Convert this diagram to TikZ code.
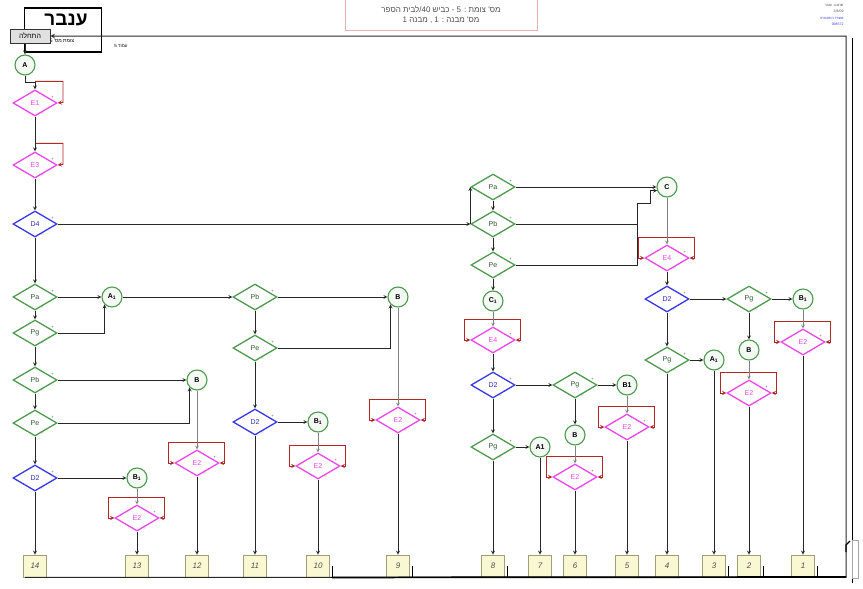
\documentclass[tikz,border=0pt]{standalone}
\usepackage{fontspec}
\setmainfont{Liberation Sans}
\newfontfamily\hebfont[Script=Hebrew]{Liberation Sans}
\TeXXeTstate=1
\usepackage{tikz}
\usetikzlibrary{
    shapes.geometric, arrows, positioning
}

\definecolor{pgreen}{HTML}{4E9A4E}
\definecolor{pblue}{HTML}{3838E8}
\definecolor{ppink}{HTML}{EC46EC}
\definecolor{ploop}{HTML}{B02828}
\definecolor{pbox}{HTML}{FAF8D2}
\definecolor{pboxline}{HTML}{A0A078}
\definecolor{pgray}{HTML}{505050}

\begin{document}
\begin{tikzpicture}[
    x=1pt, y=-1pt,
    pm/.style={font=\fontsize{4}{4}\selectfont, inner sep=0.4pt, text=black!70},
    cond/.style={diamond, draw, line width=1.3pt, aspect=1.7, inner sep=0pt,
        minimum width=44pt, minimum height=26pt, fill=white,
        font=\fontsize{7}{8}\selectfont,
        label={[pm]15:+}, label={[pm]-60:--}},
    pcond/.style={cond, draw=pgreen, text=pgreen!55!black},
    dcond/.style={cond, draw=pblue, text=pblue!80!black},
    econd/.style={cond, draw=ppink, text=ppink},
    junc/.style={circle, draw=pgreen, line width=1.1pt, fill=pgreen!6,
        minimum size=20pt, inner sep=0pt, font=\bfseries\fontsize{7}{8}\selectfont},
    outbox/.style={rectangle, draw=pboxline, fill=pbox, line width=0.9pt,
        minimum width=23pt, minimum height=22pt, inner sep=0pt,
        font=\itshape\fontsize{8}{9}\selectfont, text=pgray},
    arrow/.style={-stealth, line width=0.75pt, black!85},
    link/.style={-stealth, line width=0.6pt, black!50},
    loopline/.style={draw=ploop, line width=0.9pt},
    heb/.style={font=\hebfont\fontsize{7}{8}\selectfont}
]
    \useasboundingbox (0,0) rectangle (863,589);

    % Header
    \node [draw, line width=1.3pt, minimum width=77pt, minimum height=44pt] (title_box) at (63,30) {};
    \node [font=\hebfont\bfseries\fontsize{19}{21}\selectfont] (title) at (66,20) {\beginR ענבר\endR};
    \node [heb, font=\hebfont\fontsize{5}{5}\selectfont] (title_sub) at (62,41) {\beginR צומת מס' 5\endR};
    \node [heb, draw=black!80, fill=black!12, line width=0.9pt, minimum width=40pt,
        minimum height=14pt, inner sep=1pt] (start) at (30,36) {\beginR התחלה\endR};
    \node [heb, font=\hebfont\fontsize{4.5}{5}\selectfont] (page) at (121,46) {\beginR עמוד 5\endR};

    \node [heb, font=\hebfont\fontsize{8}{10}\selectfont, draw=ploop!35, line width=0.5pt,
        minimum width=192pt, minimum height=31pt, align=center, text=pgray] (header) at (441,15)
    {
        \beginR מס' צומת : 5 - כביש \beginL 40\endL{}/לבית הספר\endR\\
        \beginR מס' מבנה : 1 , מבנה 1\endR
    };

    \node [heb, font=\hebfont\fontsize{3.5}{6.5}\selectfont, align=right, anchor=east] (stamp) at (847,15)
    {
        \textcolor{pgray}{\beginR שרטט: ענבר\endR}\\
        \textcolor{pgray}{2/8/09}\\
        \textcolor{pblue}{\beginR משרד התחבורה\endR}\\
        \textcolor{pblue}{098572}
    };

    % Column 1
    \node [junc] (a_top) at (25,65) {A};
    \node [econd] (e1_c1) at (35,103) {E1};
    \node [econd] (e3_c1) at (35,165) {E3};
    \node [dcond] (d4_c1) at (35,224) {D4};
    \node [pcond] (pa_c1) at (35,297) {Pa};
    \node [pcond] (pg_c1) at (35,333) {Pg};
    \node [pcond] (pb_c1) at (35,380) {Pb};
    \node [pcond] (pe_c1) at (35,423) {Pe};
    \node [dcond] (d2_c1) at (35,478) {D2};
    \node [junc] (a1_c1) at (112,297) {A\textsubscript{1}};
    \node [junc] (b_c1) at (197,380) {B};
    \node [junc] (b1_c1) at (137,478) {B\textsubscript{1}};
    \node [econd] (e2_c1a) at (137,518) {E2};
    \node [econd] (e2_c1b) at (197,463) {E2};

    % Column 2
    \node [pcond] (pb_c2) at (255,297) {Pb};
    \node [pcond] (pe_c2) at (255,348) {Pe};
    \node [dcond] (d2_c2) at (255,422) {D2};
    \node [junc] (b_c2) at (398,297) {B};
    \node [junc] (b1_c2) at (318,422) {B\textsubscript{1}};
    \node [econd] (e2_c2a) at (318,466) {E2};
    \node [econd] (e2_c2b) at (398,420) {E2};

    % Column 3
    \node [pcond] (pa_c3) at (493,187) {Pa};
    \node [pcond] (pb_c3) at (493,224) {Pb};
    \node [pcond] (pe_c3) at (493,265) {Pe};
    \node [junc] (c1_c3) at (493,301) {C\textsubscript{1}};
    \node [econd] (e4_c3) at (493,340) {E4};
    \node [dcond] (d2_c3) at (493,385) {D2};
    \node [pcond] (pg_c3) at (493,447) {Pg};
    \node [junc] (a1_c3) at (540,447) {A1};
    \node [pcond] (pg_c3b) at (575,385) {Pg};
    \node [junc] (b1_c3) at (627,385) {B1};
    \node [econd] (e2_c3a) at (627,427) {E2};
    \node [junc] (b_c3) at (575,435) {B};
    \node [econd] (e2_c3b) at (575,477) {E2};

    % Column 4
    \node [junc] (c_c4) at (667,187) {C};
    \node [econd] (e4_c4) at (667,258) {E4};
    \node [dcond] (d2_c4) at (667,299) {D2};
    \node [pcond] (pg_c4) at (667,360) {Pg};
    \node [junc] (a1_c4) at (714,360) {A\textsubscript{1}};
    \node [pcond] (pg_c4b) at (749,299) {Pg};
    \node [junc] (b1_c4) at (803,299) {B\textsubscript{1}};
    \node [econd] (e2_c4a) at (803,342) {E2};
    \node [junc] (b_c4) at (749,350) {B};
    \node [econd] (e2_c4b) at (749,393) {E2};

    % Output boxes
    \foreach \lbl/\xx in {14/35, 13/137, 12/197, 11/255, 10/318, 9/398, 8/493,
                          7/540, 6/575, 5/627, 4/667, 3/714, 2/749, 1/803} {
        \node [outbox] (o\lbl) at (\xx,566) {\lbl};
    }

    % Wait loops on the E diamonds
    \draw[loopline, -stealth] (e1_c1.north) ++(0,-8) -- ++(28,0) -- ++(0,21) -- (e1_c1.east);
    \draw[loopline, -stealth] (e3_c1.north) ++(0,-8) -- ++(28,0) -- ++(0,21) -- (e3_c1.east);
    \foreach \n in {e2_c1a, e2_c1b, e2_c2a, e2_c2b, e4_c3, e2_c3a, e2_c3b,
                    e4_c4, e2_c4a, e2_c4b} {
        \draw[loopline, stealth-stealth] (\n.west) -- ++(-6,0) -- ++(0,-21) -- ++(56,0) -- ++(0,21) -- (\n.east);
    }

    % Column 1 flow
    \draw[arrow] (a_top.north |- start.south) -- (a_top.north);
    \draw[arrow] (a_top.south) -- ++(0,7) -| (e1_c1.north);
    \draw[arrow] (e1_c1.south) -- (e3_c1.north);
    \draw[arrow] (e3_c1.south) -- (d4_c1.north);
    \draw[arrow] (d4_c1.south) -- (pa_c1.north);
    \draw[arrow] (pa_c1.south) -- (pg_c1.north);
    \draw[arrow] (pg_c1.south) -- (pb_c1.north);
    \draw[arrow] (pb_c1.south) -- (pe_c1.north);
    \draw[arrow] (pe_c1.south) -- (d2_c1.north);
    \draw[arrow] (d2_c1.south) -- (o14.north);

    \draw[arrow] (pa_c1.east) -- (a1_c1.west);
    \draw[arrow] (pg_c1.east) -| (a1_c1.south west);
    \draw[arrow] (a1_c1.east) -- (pb_c2.west);
    \draw[arrow] (pb_c1.east) -- (b_c1.west);
    \draw[arrow] (pe_c1.east) -| (b_c1.south west);
    \draw[arrow] (d2_c1.east) -- (b1_c1.west);
    \draw[link] (b1_c1.south) -- (e2_c1a.north);
    \draw[arrow] (e2_c1a.south) -- (o13.north);
    \draw[link] (b_c1.south) -- (e2_c1b.north);
    \draw[arrow] (e2_c1b.south) -- (o12.north);

    % Column 2 flow
    \draw[arrow] (pb_c2.south) -- (pe_c2.north);
    \draw[arrow] (pe_c2.south) -- (d2_c2.north);
    \draw[arrow] (d2_c2.south) -- (o11.north);
    \draw[arrow] (pb_c2.east) -- (b_c2.west);
    \draw[arrow] (pe_c2.east) -| (b_c2.south west);
    \draw[arrow] (d2_c2.east) -- (b1_c2.west);
    \draw[link] (b1_c2.south) -- (e2_c2a.north);
    \draw[arrow] (e2_c2a.south) -- (o10.north);
    \draw[link] (b_c2.south) -- (e2_c2b.north);
    \draw[arrow] (e2_c2b.south) -- (o9.north);

    % Column 3 flow
    \coordinate (c_jn) at (637,203);
    \draw[arrow] (d4_c1.east) -- (pb_c3.west);
    \draw[arrow] (pb_c3.west) -- (pa_c3.west);
    \draw[arrow] (pa_c3.south) -- (pb_c3.north);
    \draw[arrow] (pb_c3.south) -- (pe_c3.north);
    \draw[arrow] (pe_c3.south) -- (c1_c3.north);
    \draw[link] (c1_c3.south) -- (e4_c3.north);
    \draw[arrow] (e4_c3.south) -- (d2_c3.north);
    \draw[arrow] (d2_c3.south) -- (pg_c3.north);
    \draw[arrow] (pg_c3.south) -- (o8.north);
    \draw[arrow] (pg_c3.east) -- (a1_c3.west);
    \draw[arrow] (a1_c3.south) -- (o7.north);
    \draw[arrow] (d2_c3.east) -- (pg_c3b.west);
    \draw[arrow] (pg_c3b.east) -- (b1_c3.west);
    \draw[link] (b1_c3.south) -- (e2_c3a.north);
    \draw[arrow] (e2_c3a.south) -- (o5.north);
    \draw[arrow] (pg_c3b.south) -- (b_c3.north);
    \draw[link] (b_c3.south) -- (e2_c3b.north);
    \draw[arrow] (e2_c3b.south) -- (o6.north);

    \draw[arrow] (pa_c3.east) -- (c_c4.west);
    \draw[arrow] (pe_c3.east) -| (c_jn) -- ++(13,0) |- (c_c4.200);
    \draw[arrow, -] (pb_c3.east) -- (pb_c3.east -| c_jn);

    % Column 4 flow
    \draw[link] (c_c4.south) -- (e4_c4.north);
    \draw[arrow] (e4_c4.south) -- (d2_c4.north);
    \draw[arrow] (d2_c4.south) -- (pg_c4.north);
    \draw[arrow] (pg_c4.south) -- (o4.north);
    \draw[arrow] (pg_c4.east) -- (a1_c4.west);
    \draw[arrow] (a1_c4.south) -- (o3.north);
    \draw[arrow] (d2_c4.east) -- (pg_c4b.west);
    \draw[arrow] (pg_c4b.east) -- (b1_c4.west);
    \draw[link] (b1_c4.south) -- (e2_c4a.north);
    \draw[arrow] (e2_c4a.south) -- (o1.north);
    \draw[arrow] (pg_c4b.south) -- (b_c4.north);
    \draw[link] (b_c4.south) -- (e2_c4b.north);
    \draw[arrow] (e2_c4b.south) -- (o2.north);

    % Return path back to the start
    \coordinate (fr_se) at (846,577);
    \coordinate (fr_ne) at (846,36);
    \foreach \b in {10,9,8,3,2,1} {
        \draw[line width=0.7pt] (o\b.east) ++(2,0) -- ++(0,11);
    }
    \draw[arrow, line width=1pt] ([xshift=-10pt]o14.south) -- (fr_se) -- (fr_ne) -- (start.east);
    \draw[line width=1.7pt] (o10.south east) ++(2,0) -- (fr_se);
    \draw[line width=0.8pt] (852,38) -- (852,583);
    \draw[line width=1.3pt] (846,552) -- (846,545) -- (850,541);
    \draw[black!35, line width=0.5pt] (852,540) rectangle (858,578);

\end{tikzpicture}
\end{document}
